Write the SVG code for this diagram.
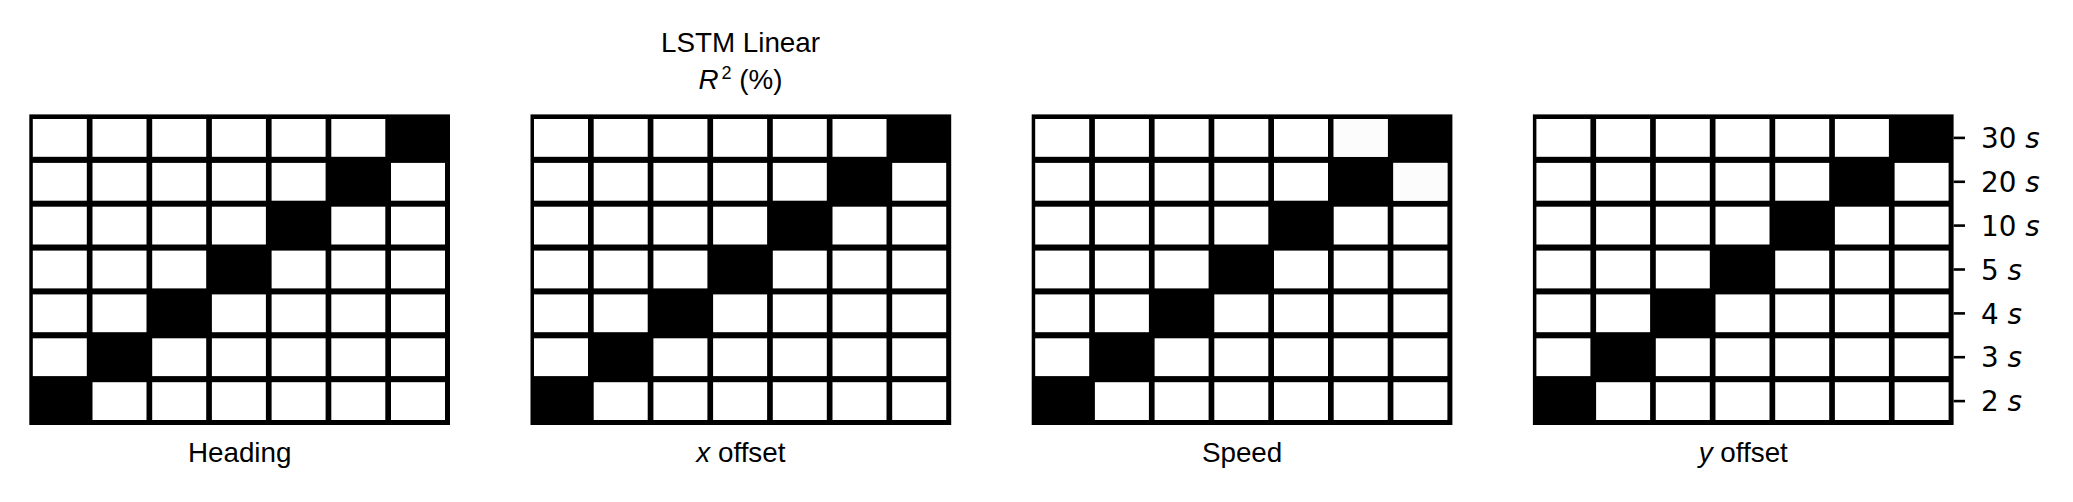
<svg xmlns="http://www.w3.org/2000/svg" xmlns:xlink="http://www.w3.org/1999/xlink" width="2073" height="502" viewBox="0 0 2073 502">
<style>
.bg{fill:#000}
.c{fill:#fff}
.lbl{font-family:"Liberation Sans",Arial,sans-serif;font-size:27.8px;fill:#000;text-anchor:middle}
.it{font-style:italic}
.tk{font-family:"DejaVu Sans",sans-serif;font-size:27.8px;fill:#000}
.tick{stroke:#000;stroke-width:2.6}
</style>
<defs>
<g id="grid">
<rect class="bg" x="29.3" y="114.4" width="420.7" height="310.6"/>
<!-- row 0 -->
<rect class="c" x="32.8" y="119" width="54" height="37.8"/>
<rect class="c" x="92.5" y="119" width="54" height="37.8"/>
<rect class="c" x="152.2" y="119" width="54" height="37.8"/>
<rect class="c" x="211.9" y="119" width="54" height="37.8"/>
<rect class="c" x="271.6" y="119" width="54" height="37.8"/>
<rect class="c" x="331.3" y="119" width="54" height="37.8"/>
<!-- row 1 -->
<rect class="c" x="32.8" y="162.9" width="54" height="37.8"/>
<rect class="c" x="92.5" y="162.9" width="54" height="37.8"/>
<rect class="c" x="152.2" y="162.9" width="54" height="37.8"/>
<rect class="c" x="211.9" y="162.9" width="54" height="37.8"/>
<rect class="c" x="271.6" y="162.9" width="54" height="37.8"/>
<rect class="c" x="391" y="162.9" width="54" height="37.8"/>
<!-- row 2 -->
<rect class="c" x="32.8" y="206.7" width="54" height="37.8"/>
<rect class="c" x="92.5" y="206.7" width="54" height="37.8"/>
<rect class="c" x="152.2" y="206.7" width="54" height="37.8"/>
<rect class="c" x="211.9" y="206.7" width="54" height="37.8"/>
<rect class="c" x="331.3" y="206.7" width="54" height="37.8"/>
<rect class="c" x="391" y="206.7" width="54" height="37.8"/>
<!-- row 3 -->
<rect class="c" x="32.8" y="250.6" width="54" height="37.8"/>
<rect class="c" x="92.5" y="250.6" width="54" height="37.8"/>
<rect class="c" x="152.2" y="250.6" width="54" height="37.8"/>
<rect class="c" x="271.6" y="250.6" width="54" height="37.8"/>
<rect class="c" x="331.3" y="250.6" width="54" height="37.8"/>
<rect class="c" x="391" y="250.6" width="54" height="37.8"/>
<!-- row 4 -->
<rect class="c" x="32.8" y="294.4" width="54" height="37.8"/>
<rect class="c" x="92.5" y="294.4" width="54" height="37.8"/>
<rect class="c" x="211.9" y="294.4" width="54" height="37.8"/>
<rect class="c" x="271.6" y="294.4" width="54" height="37.8"/>
<rect class="c" x="331.3" y="294.4" width="54" height="37.8"/>
<rect class="c" x="391" y="294.4" width="54" height="37.8"/>
<!-- row 5 -->
<rect class="c" x="32.8" y="338.3" width="54" height="37.8"/>
<rect class="c" x="152.2" y="338.3" width="54" height="37.8"/>
<rect class="c" x="211.9" y="338.3" width="54" height="37.8"/>
<rect class="c" x="271.6" y="338.3" width="54" height="37.8"/>
<rect class="c" x="331.3" y="338.3" width="54" height="37.8"/>
<rect class="c" x="391" y="338.3" width="54" height="37.8"/>
<!-- row 6 -->
<rect class="c" x="92.5" y="382.2" width="54" height="37.8"/>
<rect class="c" x="152.2" y="382.2" width="54" height="37.8"/>
<rect class="c" x="211.9" y="382.2" width="54" height="37.8"/>
<rect class="c" x="271.6" y="382.2" width="54" height="37.8"/>
<rect class="c" x="331.3" y="382.2" width="54" height="37.8"/>
<rect class="c" x="391" y="382.2" width="54" height="37.8"/>
</g>
</defs>
<rect width="2073" height="502" fill="#fff"/>

<g id="panel-heading">
<use xlink:href="#grid" href="#grid"/>
<text class="lbl" x="239.7" y="462">Heading</text>
</g>

<g id="panel-xoffset" transform="translate(501.2,0)">
<use xlink:href="#grid" href="#grid"/>
<text class="lbl" x="239.7" y="462"><tspan class="it">x</tspan> offset</text>
</g>

<g id="title">
<text class="lbl" x="740.5" y="51.7">LSTM Linear</text>
<text class="lbl" x="740.5" y="89.3"><tspan class="it">R</tspan><tspan font-size="18" dx="3" dy="-10">2</tspan><tspan dy="10"> (%)</tspan></text>
</g>

<g id="panel-speed" transform="translate(1002.4,0)">
<use xlink:href="#grid" href="#grid"/>
<rect x="331.3" y="119" width="54" height="37.8" fill="#fcfcfc"/>
<rect x="391" y="162.9" width="54" height="37.8" fill="#fcfcfc"/>
<text class="lbl" x="239.7" y="462">Speed</text>
</g>

<g id="panel-yoffset" transform="translate(1503.6,0)">
<use xlink:href="#grid" href="#grid"/>
<text class="lbl" x="239.7" y="462"><tspan class="it">y</tspan> offset</text>
</g>

<g id="y-axis">
<line class="tick" x1="1953.6" y1="137.9" x2="1965" y2="137.9"/>
<line class="tick" x1="1953.6" y1="181.8" x2="1965" y2="181.8"/>
<line class="tick" x1="1953.6" y1="225.6" x2="1965" y2="225.6"/>
<line class="tick" x1="1953.6" y1="269.5" x2="1965" y2="269.5"/>
<line class="tick" x1="1953.6" y1="313.4" x2="1965" y2="313.4"/>
<line class="tick" x1="1953.6" y1="357.2" x2="1965" y2="357.2"/>
<line class="tick" x1="1953.6" y1="401.1" x2="1965" y2="401.1"/>
<text class="tk" x="1981" y="148">30 <tspan class="it">s</tspan></text>
<text class="tk" x="1981" y="191.9">20 <tspan class="it">s</tspan></text>
<text class="tk" x="1981" y="235.7">10 <tspan class="it">s</tspan></text>
<text class="tk" x="1981" y="279.6">5 <tspan class="it">s</tspan></text>
<text class="tk" x="1981" y="323.5">4 <tspan class="it">s</tspan></text>
<text class="tk" x="1981" y="367.3">3 <tspan class="it">s</tspan></text>
<text class="tk" x="1981" y="411.2">2 <tspan class="it">s</tspan></text>
</g>
</svg>
